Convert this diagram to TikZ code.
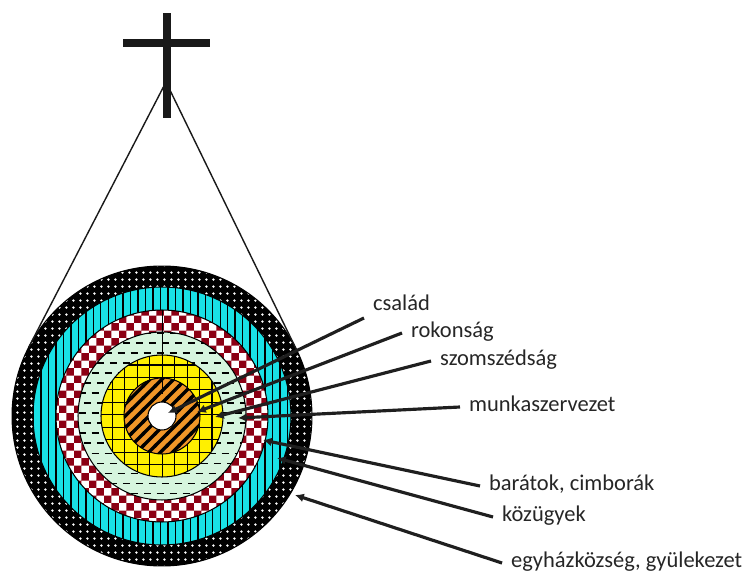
\documentclass[tikz,border=0pt]{standalone}
\usepackage{fontspec}
\setmainfont{Carlito}
\usepackage{xcolor}
\usepackage{tikz}
\usetikzlibrary{arrows.meta, patterns, calc}

\definecolor{ringcyan}{RGB}{25,225,230}
\definecolor{ringred}{RGB}{140,0,20}
\definecolor{ringgreen}{RGB}{214,245,222}
\definecolor{ringyellow}{RGB}{255,240,0}
\definecolor{ringorange}{RGB}{240,150,40}

\pgfdeclarepatternformonly{ringdots}{\pgfpointorigin}{\pgfpoint{4.25pt}{4.25pt}}{\pgfpoint{4.25pt}{4.25pt}}{
    \pgfpathcircle{\pgfpoint{2.1pt}{2.1pt}}{0.8pt}
    \pgfusepath{fill}
}
\pgfdeclarepatternformonly{ringvlines}{\pgfpoint{0pt}{-0.5pt}}{\pgfpoint{4.25pt}{4.75pt}}{\pgfpoint{4.25pt}{4.25pt}}{
    \pgfsetlinewidth{0.8pt}
    \pgfpathmoveto{\pgfpoint{2.1pt}{-0.5pt}}
    \pgfpathlineto{\pgfpoint{2.1pt}{4.75pt}}
    \pgfusepath{stroke}
}
\pgfdeclarepatternformonly{ringchecker}{\pgfpointorigin}{\pgfpoint{8.5pt}{8.5pt}}{\pgfpoint{8.5pt}{8.5pt}}{
    \pgfpathrectangle{\pgfpointorigin}{\pgfpoint{4.25pt}{4.25pt}}
    \pgfpathrectangle{\pgfpoint{4.25pt}{4.25pt}}{\pgfpoint{4.25pt}{4.25pt}}
    \pgfusepath{fill}
}
\pgfdeclarepatternformonly{ringdashes}{\pgfpoint{0pt}{-1pt}}{\pgfpoint{7.4pt}{12.4pt}}{\pgfpoint{7.4pt}{11.4pt}}{
    \pgfsetlinewidth{0.9pt}
    \pgfpathmoveto{\pgfpoint{0.3pt}{2pt}}\pgfpathlineto{\pgfpoint{4.3pt}{2pt}}
    \pgfpathmoveto{\pgfpoint{3.4pt}{7.7pt}}\pgfpathlineto{\pgfpoint{7.3pt}{7.7pt}}
    \pgfusepath{stroke}
}
\pgfdeclarepatternformonly{ringgrid}{\pgfpoint{-0.5pt}{-0.5pt}}{\pgfpoint{7.6pt}{7.6pt}}{\pgfpoint{7.1pt}{7.1pt}}{
    \pgfsetlinewidth{0.7pt}
    \pgfpathmoveto{\pgfpoint{-0.5pt}{0pt}}\pgfpathlineto{\pgfpoint{7.6pt}{0pt}}
    \pgfpathmoveto{\pgfpoint{0pt}{-0.5pt}}\pgfpathlineto{\pgfpoint{0pt}{7.6pt}}
    \pgfusepath{stroke}
}
\pgfdeclarepatternformonly{ringstripes}{\pgfpoint{-1pt}{-1pt}}{\pgfpoint{7.8pt}{7.8pt}}{\pgfpoint{6.8pt}{6.8pt}}{
    \pgfsetlinewidth{1.9pt}
    \pgfpathmoveto{\pgfpoint{-1pt}{-1pt}}
    \pgfpathlineto{\pgfpoint{7.8pt}{7.8pt}}
    \pgfusepath{stroke}
}

\tikzset{
    rings/.style={font=\fontsize{12.8}{15}\selectfont, x=0.02cm, y=-0.02cm},
    ring/.style={circle, draw=black, line width=0.6pt, inner sep=0pt, outer sep=0pt},
    ring label/.style={anchor=west, inner xsep=5pt, inner ysep=1.5pt,
        text height=0.75em, text depth=0.25em, text=black!85},
    ring arrow/.style={-{Latex[length=5pt, width=5pt]}, line width=1.8pt, black!88},
    hang line/.style={line width=0.8pt, black!90},
    cross bar/.style={fill=black!90},
}

\begin{document}
\begin{tikzpicture}[rings]
    \useasboundingbox (0,0) rectangle (747,577);

    % Cross
    \fill[cross bar] (163,13) rectangle (171,118);
    \fill[cross bar] (123,39) rectangle (210,47);
    \coordinate (apex) at (166,82);

    % Rings
    \coordinate (ctr) at (162,416);
    \node[ring, minimum size=6cm, preaction={fill=black}, pattern=ringdots, pattern color=white] (ring-egyhaz) at (ctr) {};
    \node[ring, minimum size=5.16cm, preaction={fill=ringcyan}, pattern=ringvlines, pattern color=black] (ring-kozugy) at (ctr) {};
    \node[ring, minimum size=4.24cm, preaction={fill=white}, pattern=ringchecker, pattern color=ringred] (ring-barat) at (ctr) {};
    \node[ring, minimum size=3.36cm, preaction={fill=ringgreen}, pattern=ringdashes, pattern color=black] (ring-munka) at (ctr) {};
    \node[ring, minimum size=2.44cm, preaction={fill=ringyellow}, pattern=ringgrid, pattern color=black] (ring-szomszed) at (ctr) {};
    \node[ring, minimum size=1.52cm, preaction={fill=ringorange}, pattern=ringstripes, pattern color=black] (ring-rokon) at (ctr) {};
    \node[ring, minimum size=0.56cm, fill=white] (ring-csalad) at (ctr) {};
    \draw[thin] (ring-barat.north) -- ($(ctr)+(0,-22)$);

    % Hanging lines
    \draw[hang line] (apex) -- (tangent cs:node=ring-egyhaz, point={(apex)}, solution=1);
    \draw[hang line] (apex) -- (tangent cs:node=ring-egyhaz, point={(apex)}, solution=2);

    % Labels
    \node[ring label, anchor=south west] (csalad) at (364,318) {család};
    \node[ring label] (rokonsag) at (402,333) {rokonság};
    \node[ring label] (szomszedsag) at (431,361) {szomszédság};
    \node[ring label] (munka) at (460,407) {munkaszervezet};
    \node[ring label] (baratok) at (480,486) {barátok, cimborák};
    \node[ring label] (kozugyek) at (493,517) {közügyek};
    \node[ring label] (egyhaz) at (502,563) {egyházközség, gyülekezet};

    % Arrow ends
    \coordinate (in-csalad) at ($(ctr)+(6,-3)$);
    \coordinate (in-rokonsag) at ($(ctr)+(35,-4)$);
    \coordinate (in-szomszedsag) at ($(ctr)+(53,1)$);
    \coordinate (in-munka) at ($(ctr)+(76,2)$);
    \coordinate (in-baratok) at ($(ctr)+(101,24)$);
    \coordinate (in-kozugyek) at ($(ctr)+(115,42)$);
    \coordinate (in-egyhaz) at ($(ctr)+(133,79)$);

    % Arrows
    \draw[ring arrow] (csalad.south west) -- (in-csalad);
    \draw[ring arrow] (rokonsag.west) -- (in-rokonsag);
    \draw[ring arrow] (szomszedsag.west) -- (in-szomszedsag);
    \draw[ring arrow] (munka.west) -- (in-munka);
    \draw[ring arrow] (baratok.west) -- (in-baratok);
    \draw[ring arrow] (kozugyek.west) -- (in-kozugyek);
    \draw[ring arrow] (egyhaz.west) -- (in-egyhaz);

\end{tikzpicture}
\end{document}
